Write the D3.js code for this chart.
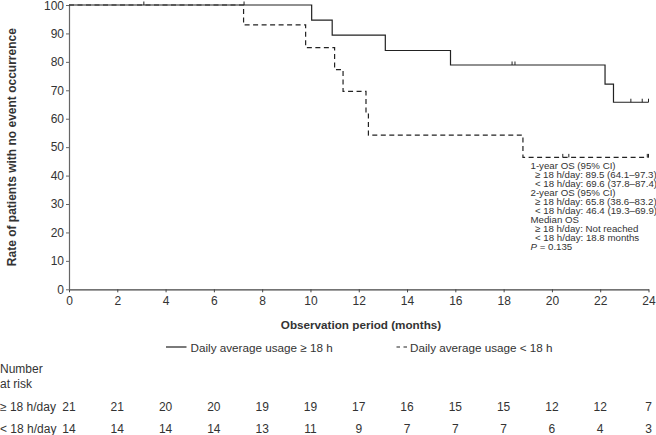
<!DOCTYPE html>
<html>
<head>
<meta charset="utf-8">
<script src="https://cdn.jsdelivr.net/npm/d3@7"></script>
<style>
  body { margin: 0; background: #fff; }
  svg { display: block; font-family: "Liberation Sans", Arial, sans-serif; }
</style>
</head>
<body>
<script>
// step points: [time, survival after the step]
const highSteps = [[0, 100], [10.05, 94.7], [10.9, 89.4], [13.1, 84.0], [15.8, 78.9], [22.2, 72.2], [22.55, 65.8]]
const lowSteps = [[0, 100], [7.23, 93.0], [9.8, 85.0], [11.0, 77.3], [11.35, 69.6], [12.3, 62.0], [12.4, 54.2], [18.8, 46.4]]
const highCensor = [3.1, 7.25, 18.35, 18.47, 23.27, 23.74, 24.0]
const lowCensor = [20.45, 20.7, 23.95, 24.0]
const endTime = 24

const riskTimes = [0, 2, 4, 6, 8, 10, 12, 14, 16, 18, 20, 22, 24]
const riskHigh = [21, 21, 20, 20, 19, 19, 17, 16, 15, 15, 12, 12, 7]
const riskLow = [14, 14, 14, 14, 13, 11, 9, 7, 7, 7, 6, 4, 3]

const xTicks = [0, 2, 4, 6, 8, 10, 12, 14, 16, 18, 20, 22, 24]
const yTicks = [0, 10, 20, 30, 40, 50, 60, 70, 80, 90, 100]

const notes = [
  ['1-year OS (95% CI)', 0],
  ['≥ 18 h/day: 89.5 (64.1–97.3)', 1],
  ['< 18 h/day: 69.6 (37.8–87.4)', 1],
  ['2-year OS (95% CI)', 0],
  ['≥ 18 h/day: 65.8 (38.6–83.2)', 1],
  ['< 18 h/day: 46.4 (19.3–69.9)', 1],
  ['Median OS', 0],
  ['≥ 18 h/day: Not reached', 1],
  ['< 18 h/day: 18.8 months', 1],
  ['P', 2]
]

const width = 656
const height = 435
const textCol = '#333'
const lineCol = '#222'

const svg = d3.select('body').append('svg')
  .attr('width', width)
  .attr('height', height)

const x = d3.scaleLinear().domain([0, 24]).range([69, 648.5])
const y = d3.scaleLinear().domain([0, 100]).range([289.3, 5])

// axes
const gx = svg.append('g')
  .attr('transform', `translate(0, ${y(0)})`)
  .call(d3.axisBottom(x).tickValues(xTicks).tickSize(3).tickPadding(4).tickSizeOuter(0))
gx.select('.domain').attr('stroke', '#444').attr('stroke-width', 1.2)
gx.selectAll('.tick line').attr('stroke', '#444')
gx.selectAll('text').attr('font-size', '12px').attr('fill', textCol)
  .attr('font-family', '"Liberation Sans", Arial, sans-serif')

const gy = svg.append('g')
  .attr('transform', `translate(${x(0)}, 0)`)
  .call(d3.axisLeft(y).tickValues(yTicks).tickSize(3).tickPadding(2).tickSizeOuter(0))
gy.select('.domain').attr('stroke', '#666').attr('stroke-width', 1.2)
gy.selectAll('.tick line').attr('stroke', '#666')
gy.selectAll('text').attr('font-size', '12px').attr('fill', textCol)
  .attr('font-family', '"Liberation Sans", Arial, sans-serif')
  .attr('dy', d => d === 100 ? '0.38em' : '0.32em')

svg.append('text')
  .attr('transform', `translate(16, ${(y(0) + y(100)) / 2}) rotate(-90)`)
  .attr('text-anchor', 'middle')
  .attr('font-size', '12px')
  .attr('font-weight', 'bold')
  .attr('fill', textCol)
  .text('Rate of patients with no event occurrence')

svg.append('text')
  .attr('x', 361)
  .attr('y', 329)
  .attr('text-anchor', 'middle')
  .attr('font-size', '11.7px')
  .attr('font-weight', 'bold')
  .attr('fill', textCol)
  .text('Observation period (months)')

// KM curves
const stepLine = d3.line()
  .x(d => x(d[0]))
  .y(d => y(d[1]))
  .curve(d3.curveStepAfter)

function withEnd(steps) {
  return steps.concat([[endTime, steps[steps.length - 1][1]]])
}

function survAt(steps, t) {
  let s = 100
  steps.forEach(d => { if (d[0] <= t) s = d[1] })
  return s
}

svg.append('path')
  .datum(withEnd(lowSteps))
  .attr('d', stepLine)
  .attr('fill', 'none')
  .attr('stroke', lineCol)
  .attr('stroke-width', 1.2)
  .attr('stroke-dasharray', '5,3.5')

svg.append('path')
  .datum(withEnd(highSteps))
  .attr('d', stepLine)
  .attr('fill', 'none')
  .attr('stroke', lineCol)
  .attr('stroke-width', 1.2)

svg.selectAll('.cens-high')
  .data(highCensor)
  .enter()
  .append('line')
  .attr('x1', d => x(d))
  .attr('x2', d => x(d))
  .attr('y1', d => y(survAt(highSteps, d)))
  .attr('y2', d => y(survAt(highSteps, d)) - 3.5)
  .attr('stroke', lineCol)
  .attr('stroke-width', 1)

svg.selectAll('.cens-low')
  .data(lowCensor)
  .enter()
  .append('line')
  .attr('x1', d => x(d))
  .attr('x2', d => x(d))
  .attr('y1', d => y(survAt(lowSteps, d)))
  .attr('y2', d => y(survAt(lowSteps, d)) - 3.5)
  .attr('stroke', lineCol)
  .attr('stroke-width', 1)

// annotation block
const noteG = svg.append('g')
  .attr('font-size', '9.7px')
  .attr('fill', textCol)

noteG.selectAll('text')
  .data(notes)
  .enter()
  .append('text')
  .attr('x', d => d[1] === 1 ? 535 : 530.5)
  .attr('y', (d, i) => 168.5 + i * 9)
  .each(function (d) {
    const t = d3.select(this)
    if (d[1] === 2) {
      t.append('tspan').attr('font-style', 'italic').text('P')
      t.append('tspan').text(' = 0.135')
    } else {
      t.text(d[0])
    }
  })

// legend
const legend = svg.append('g').attr('font-size', '11.7px').attr('fill', textCol)
legend.append('line')
  .attr('x1', 166).attr('x2', 186.5).attr('y1', 347).attr('y2', 347)
  .attr('stroke', lineCol).attr('stroke-width', 1.2)
legend.append('text').attr('x', 190.5).attr('y', 351.5).text('Daily average usage ≥ 18 h')
legend.append('line')
  .attr('x1', 396.5).attr('x2', 407.5).attr('y1', 347).attr('y2', 347)
  .attr('stroke', lineCol).attr('stroke-width', 1.2)
  .attr('stroke-dasharray', '3.5,3.5')
legend.append('text').attr('x', 410).attr('y', 351.5).text('Daily average usage < 18 h')

// number at risk table
const risk = svg.append('g').attr('font-size', '12px').attr('fill', textCol)
risk.append('text').attr('x', 0).attr('y', 373).text('Number')
risk.append('text').attr('x', 0).attr('y', 388).text('at risk')
risk.append('text').attr('x', 0).attr('y', 411).text('≥ 18 h/day')
risk.append('text').attr('x', 0).attr('y', 432.5).text('< 18 h/day')

risk.selectAll('.rh')
  .data(riskHigh)
  .enter()
  .append('text')
  .attr('x', (d, i) => x(riskTimes[i]))
  .attr('y', 411)
  .attr('text-anchor', 'middle')
  .text(d => d)

risk.selectAll('.rl')
  .data(riskLow)
  .enter()
  .append('text')
  .attr('x', (d, i) => x(riskTimes[i]))
  .attr('y', 432.5)
  .attr('text-anchor', 'middle')
  .text(d => d)
</script>
</body>
</html>
